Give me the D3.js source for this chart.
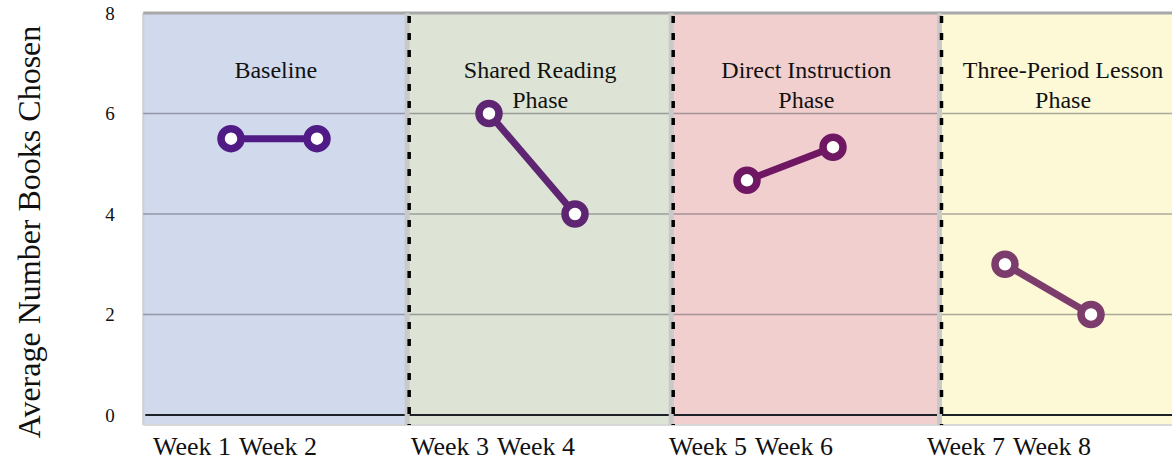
<!DOCTYPE html>
<html><head><meta charset="utf-8">
<script src="https://cdn.jsdelivr.net/npm/d3@7"></script>
<style>body{margin:0;background:#fff}svg{display:block}text{font-family:"Liberation Serif","Times New Roman",serif;fill:#111}</style>
</head><body>
<svg id="c" width="1172" height="465"></svg>
<script>
// Data
const weeks = ["Week 1","Week 2","Week 3","Week 4","Week 5","Week 6","Week 7","Week 8"];
const weekSlot = [0,1,3,4,6,7,9,10];
const values = [5.5,5.5,6,4,4.67,5.33,3,2];
const weekPhase = [0,0,1,1,2,2,3,3];
const phaseNames = [["Baseline"],["Shared Reading","Phase"],["Direct Instruction","Phase"],["Three-Period Lesson","Phase"]];
const phaseBounds = [-1.02, 2.06, 5.13, 8.25, 11.1];
const phaseFill = ["#d1d9ed","#dde4d5","#f1cfcf","#fdf9d6"];
const phaseMarker = ["#511b86","#5e2672","#6f1762","#7c3d6c"];
const yTicks = [0,2,4,6,8];

const svg = d3.select("#c");
const x = d3.scaleLinear().domain([-1, 11]).range([145, 1177]);
const y = d3.scaleLinear().domain([0, 8]).range([415, 13]);

// phase backgrounds
const phases = d3.range(4);
svg.selectAll("rect.bg").data(phases).join("rect")
  .attr("x", i => x(phaseBounds[i]))
  .attr("y", y(8))
  .attr("width", i => x(phaseBounds[i+1]) - x(phaseBounds[i]))
  .attr("height", y(0) - y(8) + 10)
  .attr("fill", i => phaseFill[i]);

// light gray edges
svg.append("line").attr("x1", x(phaseBounds[0])).attr("x2", x(phaseBounds[0]))
  .attr("y1", y(8)).attr("y2", y(0)+10).attr("stroke","#cfcfcf").attr("stroke-width",2);
svg.append("line").attr("x1", x(phaseBounds[0])).attr("x2", 1172)
  .attr("y1", y(0)+10).attr("y2", y(0)+10).attr("stroke","#d8d8d8").attr("stroke-width",2);

// gridlines
svg.selectAll("line.grid").data([2,4,6]).join("line")
  .attr("x1", x(phaseBounds[0])).attr("x2", 1172)
  .attr("y1", d => y(d)).attr("y2", d => y(d))
  .attr("stroke", "rgba(70,70,80,0.45)").attr("stroke-width", 1.5);
// top line
svg.append("line").attr("x1", x(phaseBounds[0])).attr("x2", 1172)
  .attr("y1", y(8)).attr("y2", y(8)).attr("stroke","#a8a8a8").attr("stroke-width",3);
// zero line
svg.append("line").attr("x1", x(phaseBounds[0])+2).attr("x2", 1172)
  .attr("y1", y(0)).attr("y2", y(0)).attr("stroke","#1c2128").attr("stroke-width",2);

// phase dividers
const divs = phaseBounds.slice(1,4);
svg.selectAll("line.band").data(divs).join("line")
  .attr("x1", d => x(d)-1).attr("x2", d => x(d)-1)
  .attr("y1", y(8)).attr("y2", y(0)+10)
  .attr("stroke", "#c9c9c9").attr("stroke-width", 5);
svg.selectAll("line.div").data(divs).join("line")
  .attr("x1", d => x(d)+1).attr("x2", d => x(d)+1)
  .attr("y1", y(8)+3).attr("y2", y(0)+10)
  .attr("stroke", "#000").attr("stroke-width", 3.5)
  .attr("stroke-dasharray", "7,10");

// y ticks
svg.selectAll("text.yt").data(yTicks).join("text")
  .attr("x", 110).attr("y", d => y(d)).attr("dy", "0.35em")
  .attr("text-anchor","middle").attr("font-size", 19).text(d => d);

// y title
svg.append("text").attr("transform","translate(40,232) rotate(-90)")
  .attr("text-anchor","middle").attr("font-size", 32).text("Average Number Books Chosen");

// phase labels
phases.forEach(i => {
  const cx = (x(phaseBounds[i]) + x(phaseBounds[i+1]))/2;
  svg.append("text").attr("x", cx).attr("y", 78).attr("text-anchor","middle")
    .attr("font-size", 24).selectAll("tspan").data(phaseNames[i]).join("tspan")
    .attr("x", cx).attr("dy", (d,j) => j ? 30 : 0).text(d => d);
});

// lines & markers per phase
const line = d3.line().x(d => x(weekSlot[d])).y(d => y(values[d]));
phases.forEach(p => {
  const idx = d3.range(weeks.length).filter(i => weekPhase[i] === p);
  svg.append("path").attr("d", line(idx)).attr("fill","none")
    .attr("stroke", phaseMarker[p]).attr("stroke-width", 7);
  svg.selectAll(null).data(idx).join("circle")
    .attr("cx", i => x(weekSlot[i])).attr("cy", i => y(values[i]))
    .attr("r", 10).attr("fill","#fff")
    .attr("stroke", phaseMarker[p]).attr("stroke-width", 7.5);
});

// week labels
svg.selectAll("text.wk").data(weeks).join("text")
  .attr("x", (d,i) => x(weekSlot[i])).attr("y", 455)
  .attr("text-anchor","end").attr("font-size", 26).text(d => d);
</script>
</body></html>
